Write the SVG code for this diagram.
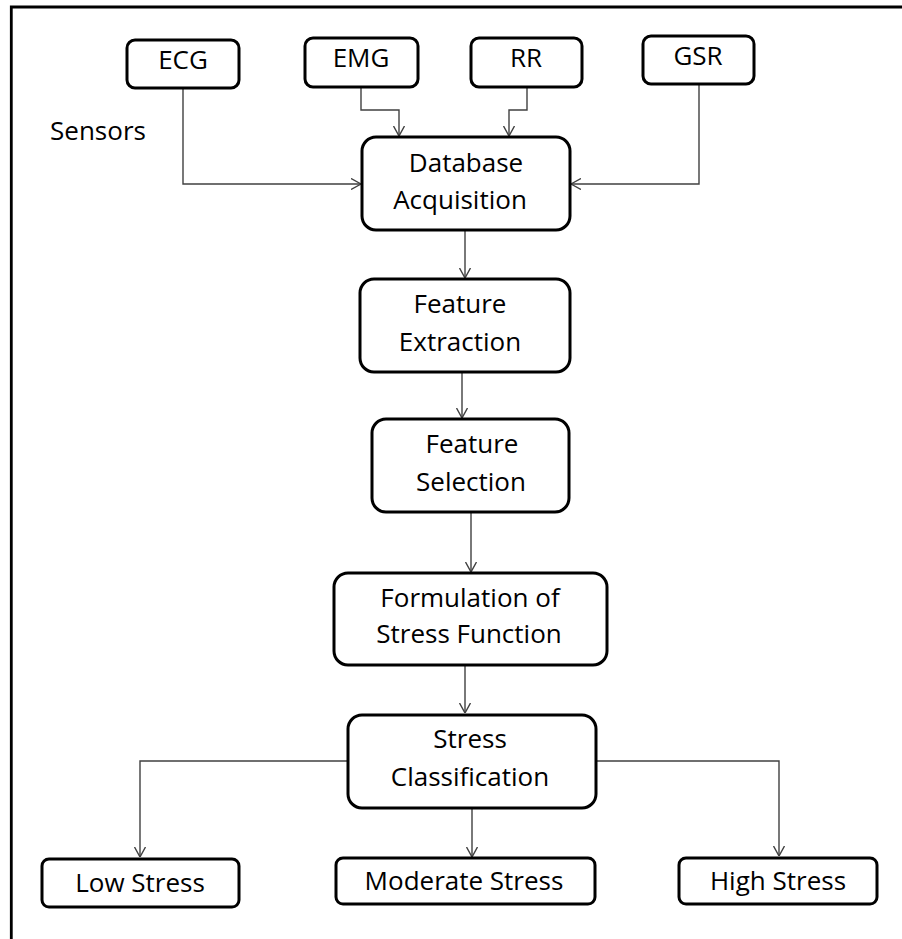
<svg xmlns="http://www.w3.org/2000/svg" width="902" height="939" viewBox="0 0 902 939">
<style>
.box{fill:#fff;stroke:#000;stroke-width:3}
.t{font-family:"Open Sans","Liberation Sans",sans-serif;font-size:26px;fill:#000;text-anchor:middle}
.c{fill:none;stroke:#404040;stroke-width:1.4}
</style>
<defs>
<marker id="ah" viewBox="0 0 10 12" refX="10" refY="6" markerWidth="10" markerHeight="12" markerUnits="userSpaceOnUse" orient="auto">
<path d="M0,0.5 L10,6 L0,11.5" fill="none" stroke="#404040" stroke-width="1.4"/>
</marker>
</defs>
<rect width="902" height="939" fill="#fff"/>
<path d="M11.3,939 V7 H902" fill="none" stroke="#000" stroke-width="2.8"/>
<text class="t" x="98" y="140">Sensors</text>
<g id="connectors">
<path class="c" d="M183,88 V184 H361" marker-end="url(#ah)"/>
<path class="c" d="M361,87 V110 H399 V136" marker-end="url(#ah)"/>
<path class="c" d="M527,87 V110 H509 V136" marker-end="url(#ah)"/>
<path class="c" d="M699,84 V184 H571" marker-end="url(#ah)"/>
<path class="c" d="M465,230 V278" marker-end="url(#ah)"/>
<path class="c" d="M462,372 V418" marker-end="url(#ah)"/>
<path class="c" d="M471,512 V572" marker-end="url(#ah)"/>
<path class="c" d="M465,665 V713" marker-end="url(#ah)"/>
<path class="c" d="M348,761 H140 V857" marker-end="url(#ah)"/>
<path class="c" d="M472,808 V857" marker-end="url(#ah)"/>
<path class="c" d="M596,761 H779 V856" marker-end="url(#ah)"/>
</g>
<g id="ecg"><rect class="box" x="127" y="40" width="112" height="48" rx="8"/><text class="t" x="183" y="69">ECG</text></g>
<g id="emg"><rect class="box" x="305" y="38" width="113" height="49" rx="8"/><text class="t" x="361" y="67">EMG</text></g>
<g id="rr"><rect class="box" x="471" y="38" width="111" height="49" rx="8"/><text class="t" x="526" y="67">RR</text></g>
<g id="gsr"><rect class="box" x="643" y="36" width="111" height="48" rx="8"/><text class="t" x="698" y="65">GSR</text></g>
<g id="db"><rect class="box" x="362" y="137" width="208" height="93" rx="14"/><text class="t" x="466" y="172">Database</text><text class="t" x="460" y="209">Acquisition</text></g>
<g id="fe"><rect class="box" x="360" y="279" width="210" height="93" rx="14"/><text class="t" x="460" y="313">Feature</text><text class="t" x="460" y="351">Extraction</text></g>
<g id="fs"><rect class="box" x="372" y="419" width="197" height="93" rx="14"/><text class="t" x="472" y="453">Feature</text><text class="t" x="471" y="491">Selection</text></g>
<g id="form"><rect class="box" x="334" y="573" width="273" height="92" rx="14"/><text class="t" x="470" y="607">Formulation of</text><text class="t" x="469" y="643">Stress Function</text></g>
<g id="sc"><rect class="box" x="348" y="715" width="248" height="93" rx="14"/><text class="t" x="470" y="748">Stress</text><text class="t" x="470" y="786">Classification</text></g>
<g id="low"><rect class="box" x="42" y="859" width="197" height="48" rx="7"/><text class="t" x="140" y="892">Low Stress</text></g>
<g id="mod"><rect class="box" x="336" y="858" width="259" height="46" rx="7"/><text class="t" x="464" y="890">Moderate Stress</text></g>
<g id="high"><rect class="box" x="679" y="858" width="198" height="46" rx="7"/><text class="t" x="778" y="890">High Stress</text></g>
</svg>
